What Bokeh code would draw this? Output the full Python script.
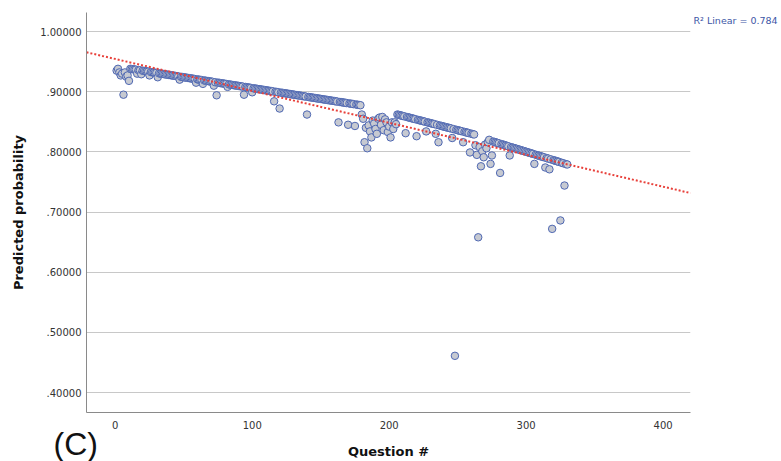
from bokeh.plotting import figure
from bokeh.models import Range1d, FixedTicker, CustomJSTickFormatter, ColumnDataSource
from bokeh.core.properties import value
from bokeh.embed import file_html
from bokeh.resources import INLINE

# ---- data ----
question = list(range(1, 331))
probability = [
    0.935, 0.938, 0.932, 0.927, 0.930, 0.895, 0.932, 0.925, 0.927, 0.918,
    0.9380, 0.9376, 0.9373, 0.9369, 0.9366, 0.9300, 0.9358, 0.9355, 0.9290, 0.9348,
    0.9344, 0.9340, 0.9337, 0.9333, 0.9270, 0.9326, 0.9322, 0.9319, 0.9315, 0.9312,
    0.9240, 0.9304, 0.9301, 0.9297, 0.9294, 0.9290, 0.9286, 0.9283, 0.9279, 0.9276,
    0.9272, 0.9268, 0.9265, 0.9261, 0.9258, 0.9254, 0.9200, 0.9247, 0.9243, 0.9240,
    0.9236, 0.9232, 0.9229, 0.9225, 0.9222, 0.9218, 0.9214, 0.9211, 0.9150, 0.9204,
    0.9200, 0.9196, 0.9193, 0.9130, 0.9186, 0.9182, 0.9178, 0.9175, 0.9171, 0.9168,
    0.9164, 0.9100, 0.9157, 0.8940, 0.9150, 0.9146, 0.9142, 0.9139, 0.9135, 0.9132,
    0.9128, 0.9080, 0.9121, 0.9117, 0.9114, 0.9110, 0.9106, 0.9103, 0.9099, 0.9096,
    0.9092, 0.9088, 0.9085, 0.8950, 0.9078, 0.9074, 0.9070, 0.9067, 0.9063, 0.8990,
    0.9056, 0.9052, 0.9049, 0.9045, 0.9042, 0.9038, 0.9034, 0.9031, 0.9027, 0.9024,
    0.9020, 0.9016, 0.9013, 0.9009, 0.9006, 0.8840, 0.8998, 0.8995, 0.8991, 0.8720,
    0.8984, 0.8980, 0.8977, 0.8973, 0.8970, 0.8966, 0.8962, 0.8959, 0.8955, 0.8952,
    0.8948, 0.8944, 0.8941, 0.8937, 0.8934, 0.8930, 0.8926, 0.8923, 0.8919, 0.8620,
    0.8912, 0.8908, 0.8905, 0.8901, 0.8898, 0.8894, 0.8890, 0.8887, 0.8883, 0.8880,
    0.8876, 0.8872, 0.8869, 0.8865, 0.8862, 0.8858, 0.8854, 0.8851, 0.8847, 0.8844,
    0.8840, 0.8836, 0.8490, 0.8829, 0.8826, 0.8822, 0.8818, 0.8815, 0.8811, 0.8450,
    0.8804, 0.8800, 0.8797, 0.8793, 0.8430, 0.8786, 0.8782, 0.8779, 0.8775, 0.8620,
    0.855, 0.816, 0.840, 0.806, 0.844, 0.834, 0.824, 0.852, 0.847, 0.838,
    0.830, 0.855, 0.857, 0.845, 0.858, 0.836, 0.854, 0.849, 0.833, 0.842,
    0.824, 0.849, 0.838, 0.849, 0.846, 0.8620, 0.8614, 0.8608, 0.8602, 0.8596,
    0.8590, 0.8310, 0.8579, 0.8573, 0.8567, 0.8561, 0.8555, 0.8549, 0.8543, 0.8260,
    0.8531, 0.8525, 0.8520, 0.8514, 0.8508, 0.8502, 0.8340, 0.8490, 0.8484, 0.8478,
    0.8472, 0.8466, 0.8461, 0.8300, 0.8449, 0.8160, 0.8437, 0.8431, 0.8425, 0.8419,
    0.8413, 0.8407, 0.8402, 0.8396, 0.8390, 0.8230, 0.8378, 0.4610, 0.8366, 0.8360,
    0.8354, 0.8348, 0.8343, 0.8160, 0.8331, 0.8325, 0.8319, 0.8313, 0.7990, 0.8301,
    0.8295, 0.8289, 0.811, 0.795, 0.658, 0.808, 0.776, 0.801, 0.791, 0.812,
    0.806, 0.816, 0.820, 0.780, 0.794, 0.8170, 0.8163, 0.8156, 0.8149, 0.8142,
    0.7650, 0.8128, 0.8121, 0.8114, 0.8107, 0.8099, 0.8092, 0.7940, 0.8078, 0.8071,
    0.8064, 0.8057, 0.8050, 0.8043, 0.8036, 0.8029, 0.8022, 0.8015, 0.8008, 0.8001,
    0.7994, 0.7987, 0.7980, 0.7973, 0.7966, 0.7800, 0.7952, 0.7945, 0.7938, 0.7931,
    0.7924, 0.7917, 0.7910, 0.7740, 0.7896, 0.7889, 0.7710, 0.7875, 0.6720, 0.7861,
    0.7854, 0.7847, 0.7840, 0.7833, 0.6860, 0.7818, 0.7811, 0.7440, 0.7797, 0.7790,
]

# linear fit line, R^2 text
fit_x = [-21, 420]
fit_y = [0.9655, 0.7315]
r2_text = ["R\u00b2 Linear = 0.784"]
r2_x = [422.2]
r2_y = [1.0183]
panel_text = ["(C)"]
panel_x = [-45.1]
panel_y = [0.3150]

x_ticks = [0, 100, 200, 300, 400]
y_ticks = [0.4, 0.5, 0.6, 0.7, 0.8, 0.9, 1.0]
y_tick_labels = [".40000", ".50000", ".60000", ".70000", ".80000", ".90000", "1.00000"]

x_title = "Question #"
y_title = "Predicted probability"

# ---- figure ----
p = figure(width=781, height=461, output_backend="svg", toolbar_location=None,
           x_range=Range1d(-21, 420), y_range=Range1d(0.3668, 1.0316),
           min_border_left=86, min_border_right=91, min_border_top=12, min_border_bottom=49)
p.outline_line_color = None
p.background_fill_color = "white"
p.border_fill_color = "white"

p.xgrid.grid_line_color = None
p.ygrid.grid_line_color = "#c8c8c8"
p.ygrid.grid_line_width = 1

for ax in (p.xaxis[0], p.yaxis[0]):
    ax.axis_line_color = "#8a8a8a"
    ax.axis_line_width = 1
    ax.major_tick_line_color = None
    ax.minor_tick_line_color = None
    ax.major_tick_out = 0
    ax.major_tick_in = 0
    ax.major_label_text_font = "DejaVu Sans"
    ax.major_label_text_font_size = "10px"
    ax.major_label_text_color = "#333333"
    ax.axis_label_text_font = "DejaVu Sans"
    ax.axis_label_text_font_style = "bold"
    ax.axis_label_text_font_size = "13px"
    ax.axis_label_text_color = "#111111"

p.xaxis.ticker = FixedTicker(ticks=x_ticks)
p.yaxis.ticker = FixedTicker(ticks=y_ticks)
p.ygrid.ticker = FixedTicker(ticks=y_ticks)
p.yaxis.formatter = CustomJSTickFormatter(args=dict(tvals=y_ticks, tlabels=y_tick_labels), code="""
for (let i = 0; i < tvals.length; i++) { if (Math.abs(tick - tvals[i]) < 1e-6) return tlabels[i]; }
return '';
""")
p.xaxis.axis_label = x_title
p.yaxis.axis_label = y_title
p.xaxis.major_label_standoff = 8
p.yaxis.major_label_standoff = 5
p.xaxis.axis_label_standoff = 12
p.yaxis.axis_label_standoff = 11

src = ColumnDataSource(dict(x=question, y=probability))
p.scatter("x", "y", source=src, marker="circle", size=7.5,
          fill_color="#c6c9d1", line_color="#4f68b3", line_width=1)

p.line(fit_x, fit_y, line_color="#e8403a", line_width=2, line_dash="2 2")

p.text(x=r2_x, y=r2_y, text=r2_text, text_font=value("DejaVu Sans"),
       text_font_size="9.5px", text_color="#3d56a6",
       text_align="left", text_baseline="middle", level="overlay")
p.text(x=panel_x, y=panel_y, text=panel_text, text_font=value("Liberation Sans"),
       text_font_size="32px", text_color="#111111",
       text_align="left", text_baseline="middle", level="overlay")

open("out.html", "w").write(file_html(p, INLINE))
